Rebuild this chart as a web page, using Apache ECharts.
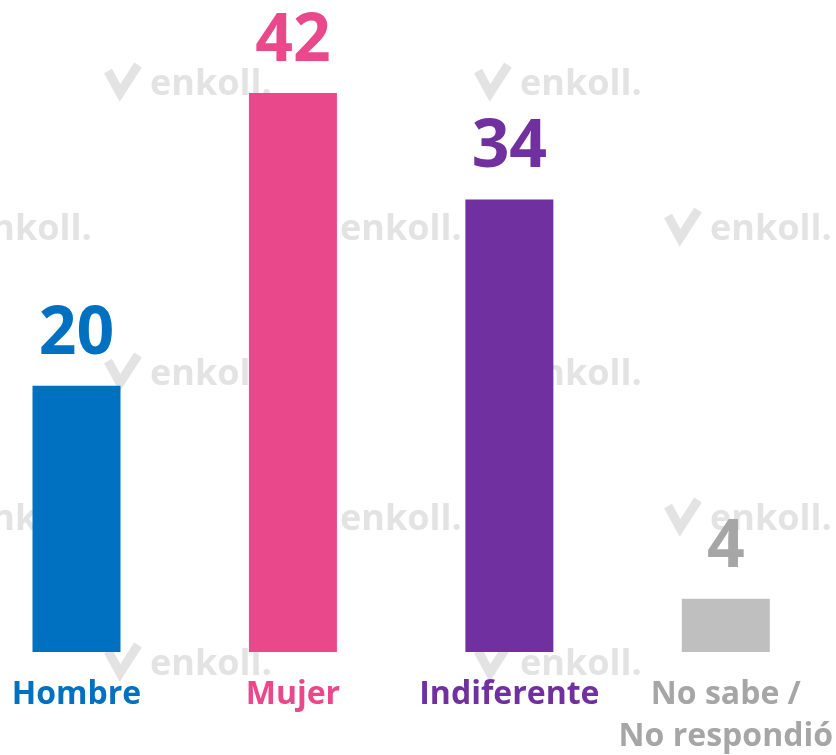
<!DOCTYPE html>
<html>
<head>
<meta charset="utf-8">
<script src="https://cdn.jsdelivr.net/npm/echarts@6/dist/echarts.min.js"></script>
<style>
  html, body { margin: 0; padding: 0; background: #fff; }
  #chart { width: 836px; height: 755px; }
</style>
</head>
<body>
<div id="chart"></div>
<script>
// datos
var categories = ['Hombre', 'Mujer', 'Indiferente', 'No sabe /\nNo respondió'];
var values = [20, 42, 34, 4];
var barColors = ['#0070C0', '#E9488A', '#7030A0', '#BFBFBF'];
var textColors = ['#0070C0', '#E9488A', '#7030A0', '#A6A6A6'];

var FONT = '"Open Sans", "Noto Sans", sans-serif';

// marcas de agua (decoración de fondo)
var marks = [];
var rowA = [150, 520, 890];
var rowB = [-30, 340, 710];
[85, 375, 665].forEach(function (y) {
  rowA.forEach(function (x) { marks.push([x, y]); });
});
[230, 520].forEach(function (y) {
  rowB.forEach(function (x) { marks.push([x, y]); });
});
var graphics = [];
marks.forEach(function (p) {
  var x = p[0], y = p[1];
  graphics.push({
    type: 'polyline',
    z: -10,
    silent: true,
    shape: { points: [[x - 42, y - 14], [x - 30, y + 8], [x - 12, y - 20]] },
    style: { stroke: '#E3E3E3', lineWidth: 9, fill: null }
  });
  graphics.push({
    type: 'text',
    x: x,
    y: y,
    z: -10,
    silent: true,
    style: {
      text: 'enkoll.',
      fill: '#E3E3E3',
      font: 'bold 36px ' + FONT,
      textVerticalAlign: 'middle'
    }
  });
});

var rich = {};
textColors.forEach(function (c, i) {
  rich['c' + i] = { color: c, fontSize: 32, fontWeight: 'bold', fontFamily: FONT, lineHeight: 42 };
});

var myChart = echarts.init(document.getElementById('chart'));
var option = {
  animation: false,
  backgroundColor: '#fff',
  graphic: graphics,
  grid: { left: 76.5, right: 108.5, top: 53, bottom: 103 },
  xAxis: {
    type: 'category',
    data: categories,
    boundaryGap: false,
    axisLine: { show: false },
    axisTick: { show: false },
    axisLabel: {
      margin: 22,
      interval: 0,
      formatter: function (v, i) {
        return v.split('\n').map(function (s) { return '{c' + i + '|' + s + '}'; }).join('\n');
      },
      rich: rich
    }
  },
  yAxis: {
    type: 'value',
    min: 0,
    max: 45,
    show: false,
    splitLine: { show: false }
  },
  series: [{
    type: 'bar',
    barWidth: 88,
    clip: false,
    data: values.map(function (v, i) {
      return {
        value: v,
        itemStyle: { color: barColors[i] },
        label: { color: textColors[i] }
      };
    }),
    label: {
      show: true,
      position: 'top',
      distance: 18,
      fontSize: 66,
      fontWeight: 'bold',
      fontFamily: FONT
    }
  }]
};
myChart.setOption(option);
</script>
</body>
</html>
